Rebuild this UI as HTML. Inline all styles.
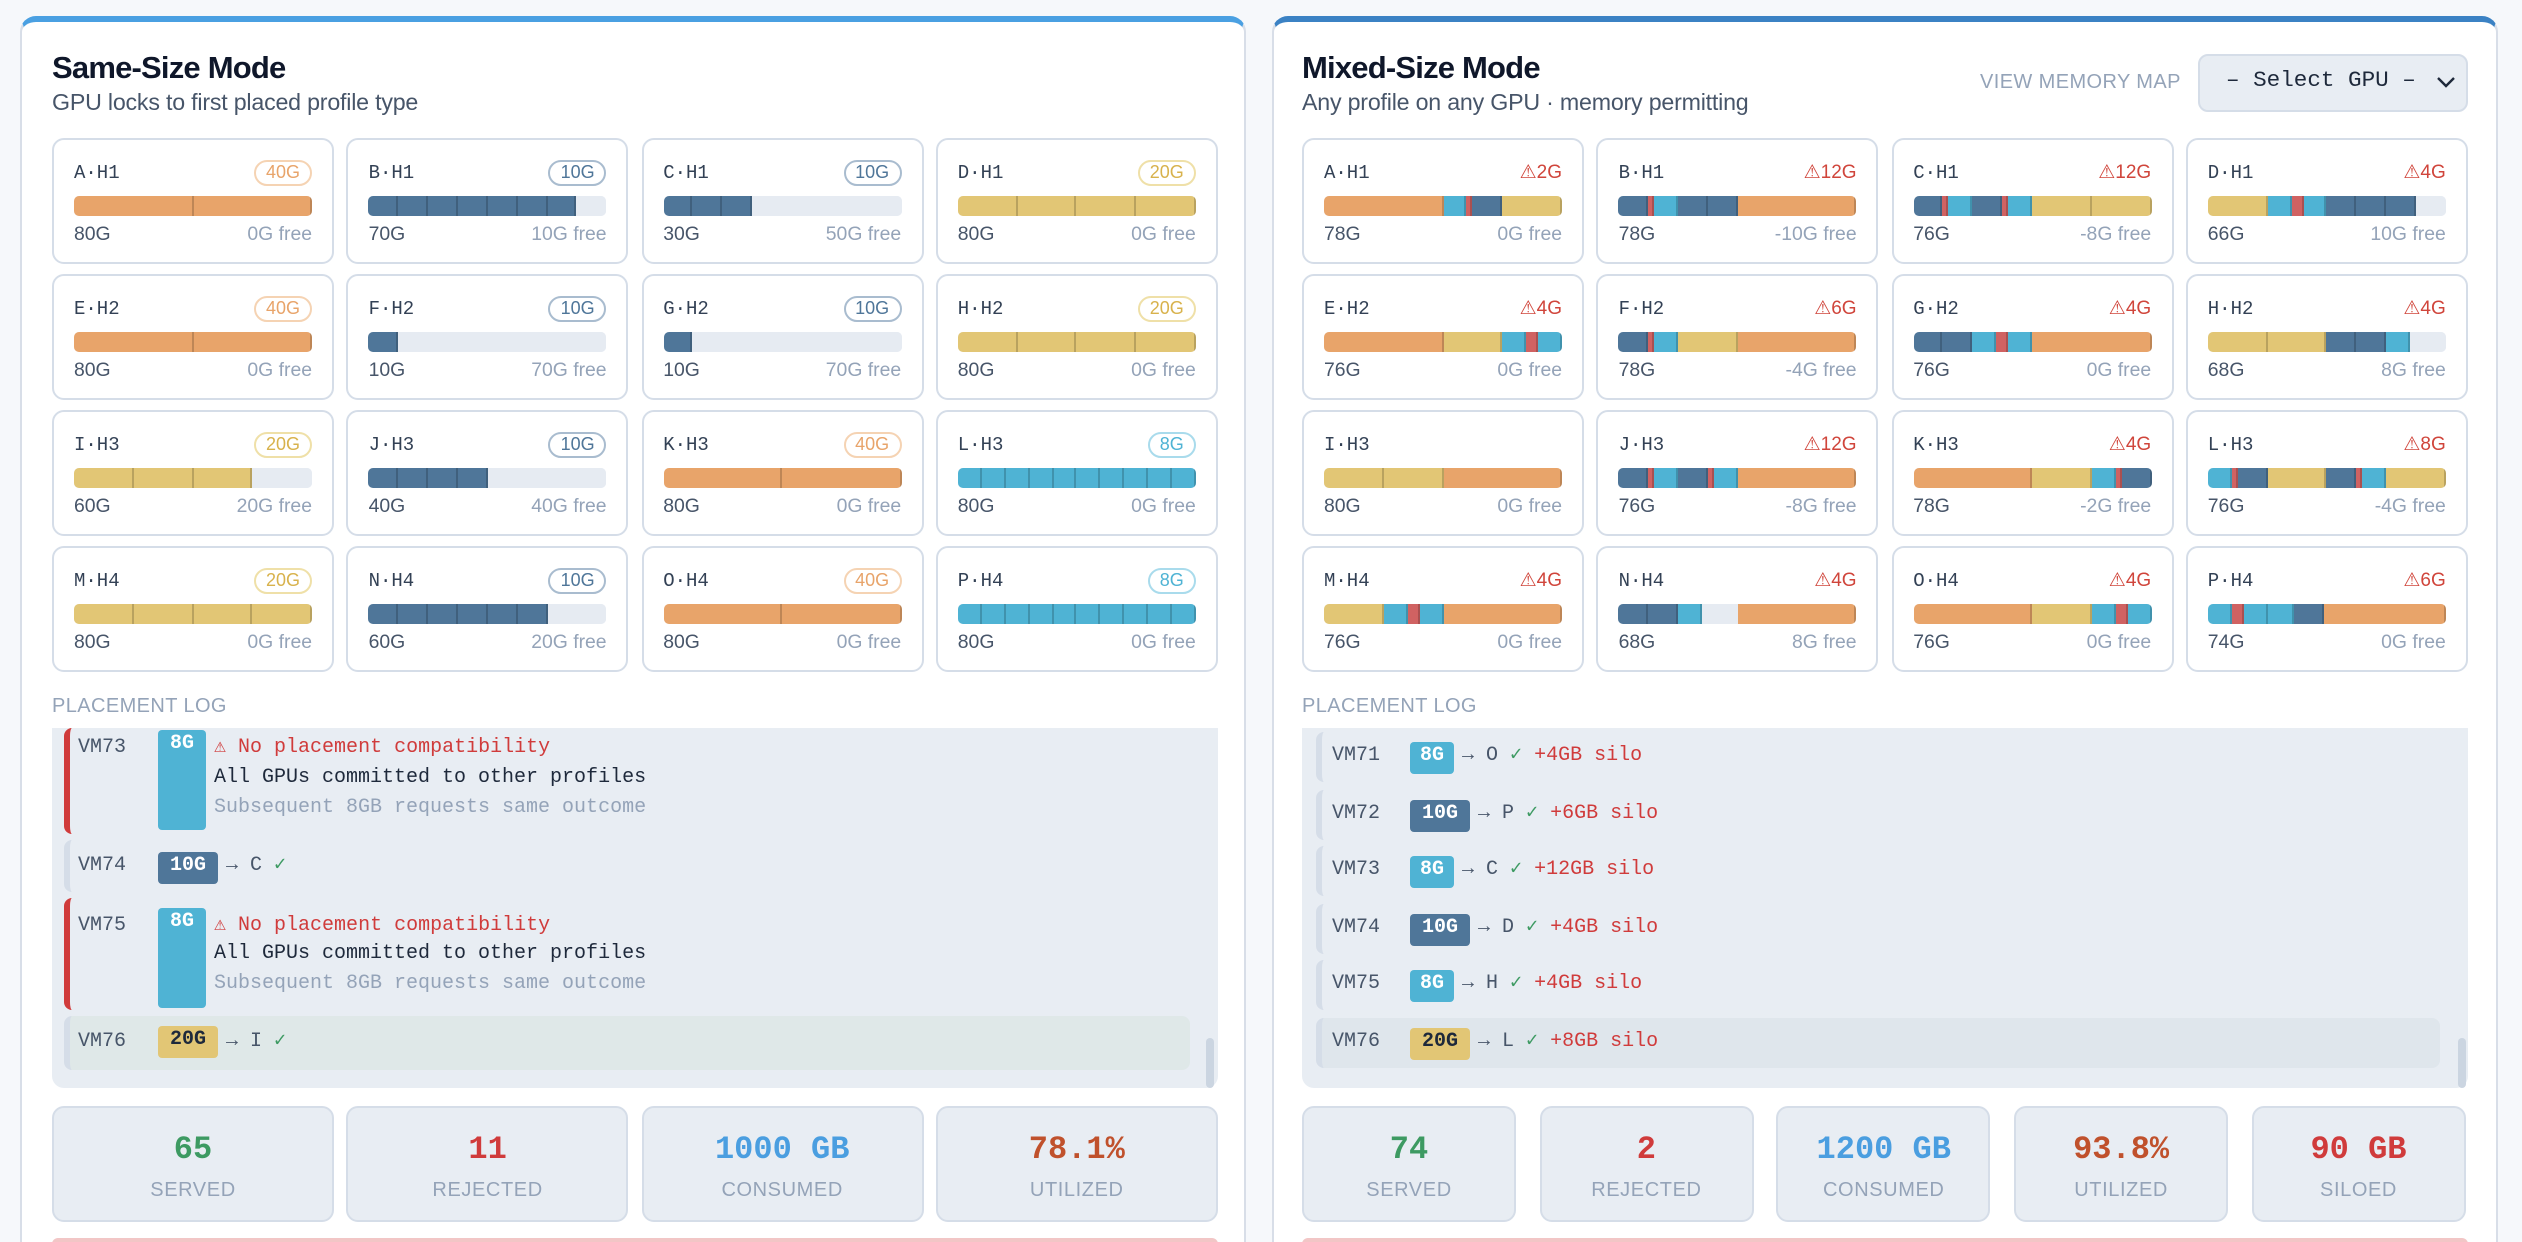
<!DOCTYPE html>
<html><head><meta charset="utf-8">
<style>
*{box-sizing:border-box;margin:0;padding:0}
html,body{width:2522px;height:1242px;overflow:hidden;background:#f6f8fb}
#w{position:absolute;left:0;top:0;width:1261px;height:621px;overflow:hidden;transform:scale(2);transform-origin:0 0;font-family:"Liberation Sans",sans-serif;color:#1e293b}
.a{position:absolute}
.panel{position:absolute;top:8px;width:613px;height:613px;background:#fff;border:1px solid #d8dee8;border-bottom:none;border-top:3px solid #4aa0e2;border-radius:8px 8px 0 0}
.t{position:absolute;top:26px;font-size:15.5px;font-weight:bold;letter-spacing:-0.4px;line-height:18px;color:#0f172a}
.st{position:absolute;top:45px;font-size:11.6px;line-height:14px;color:#475569;letter-spacing:-0.1px}
.grid{position:absolute;top:69px;width:583px;display:grid;grid-template-columns:repeat(4,141px);grid-auto-rows:63px;gap:5px 6.3px}
.card{position:relative;border:1px solid #d5dde8;border-radius:6px;background:#fff}
.n{position:absolute;left:10px;top:11px;font-family:"Liberation Mono",monospace;font-size:9.5px;line-height:12px;color:#334155}
.b{position:absolute;right:10px;top:10px;height:13px;line-height:11px;padding:0 5px;border:1px solid;border-radius:7px;font-size:9px}
.bo{color:#e8a46a;border-color:#f5d3b3}.bs{color:#4f7699;border-color:#a9bccf}.by{color:#d8b24c;border-color:#efe0a8}.bc{color:#4fb3d4;border-color:#a9dbec}
.w{position:absolute;right:10px;top:11px;font-size:9.5px;line-height:12px;color:#d0453b}
.bar{position:absolute;left:10px;right:10px;top:28px;height:10px;border-radius:2.5px;overflow:hidden;display:flex;background:#e6ebf2}
.bar i{display:block;height:100%;box-shadow:inset -1px 0 0 rgba(0,0,0,.18)}
.o{background:#e8a46a}.y{background:#e2c675}.s{background:#4f7699}.c{background:#4fb3d4}.r{background:#d06262}.e{background:#e6ebf2;box-shadow:none!important}
.f{position:absolute;left:10px;right:10px;top:42px;font-size:9.7px;line-height:12px;color:#475569}
.f span{float:right;color:#94a3b8}
.pl{position:absolute;top:348px;font-size:10px;line-height:12px;color:#94a3b8;letter-spacing:0.2px}
.log{position:absolute;top:364px;width:583px;height:180px;background:#e8edf3;border-radius:0 0 6px 6px}
.m{font-family:"Liberation Mono",monospace;font-size:10px;line-height:12px;color:#475569;position:absolute}
.en{position:absolute;border-left:3px solid #d5dde8;border-radius:4px}
.red{border-left-color:#d03b3b}
.bd{position:absolute;font-family:"Liberation Mono",monospace;font-weight:bold;font-size:10px;color:#fff;text-align:center;border-radius:2px;line-height:16px;height:16px}
.rt{color:#d03b3b}.ok{color:#3d9a62}
.sb{position:absolute;width:4px;height:25px;top:519px;background:#cbd5e1;border-radius:2px}
.stats{position:absolute;top:553px;display:flex}
.sx{height:58px;background:#e8edf3;border:1px solid #d5dde8;border-radius:6px;text-align:center}
.sx b{display:block;margin-top:12px;font-family:"Liberation Mono",monospace;font-size:16px;line-height:18px}
.sx span{display:block;margin-top:6px;font-size:10px;line-height:12px;color:#94a3b8;letter-spacing:0.3px}
.pk{position:absolute;top:619px;height:4px;width:583px;background:#f2c6c6;border-radius:3px 3px 0 0}
</style></head><body><div id="w">

<div class="panel" style="left:10px"></div>
<div class="panel" style="left:636px;border-top-color:#3b82c4"></div>

<div class="t" style="left:26px">Same-Size Mode</div>
<div class="st" style="left:26px">GPU locks to first placed profile type</div>

<div class="grid" style="left:26px">
<div class="card"><div class="n">A·H1</div><div class="b bo">40G</div><div class="bar"><i class="o" style="flex:40"></i><i class="o" style="flex:40"></i></div><div class="f">80G<span>0G free</span></div></div>
<div class="card"><div class="n">B·H1</div><div class="b bs">10G</div><div class="bar"><i class="s" style="flex:10"></i><i class="s" style="flex:10"></i><i class="s" style="flex:10"></i><i class="s" style="flex:10"></i><i class="s" style="flex:10"></i><i class="s" style="flex:10"></i><i class="s" style="flex:10"></i><i class="e" style="flex:10"></i></div><div class="f">70G<span>10G free</span></div></div>
<div class="card"><div class="n">C·H1</div><div class="b bs">10G</div><div class="bar"><i class="s" style="flex:10"></i><i class="s" style="flex:10"></i><i class="s" style="flex:10"></i><i class="e" style="flex:50"></i></div><div class="f">30G<span>50G free</span></div></div>
<div class="card"><div class="n">D·H1</div><div class="b by">20G</div><div class="bar"><i class="y" style="flex:20"></i><i class="y" style="flex:20"></i><i class="y" style="flex:20"></i><i class="y" style="flex:20"></i></div><div class="f">80G<span>0G free</span></div></div>
<div class="card"><div class="n">E·H2</div><div class="b bo">40G</div><div class="bar"><i class="o" style="flex:40"></i><i class="o" style="flex:40"></i></div><div class="f">80G<span>0G free</span></div></div>
<div class="card"><div class="n">F·H2</div><div class="b bs">10G</div><div class="bar"><i class="s" style="flex:10"></i><i class="e" style="flex:70"></i></div><div class="f">10G<span>70G free</span></div></div>
<div class="card"><div class="n">G·H2</div><div class="b bs">10G</div><div class="bar"><i class="s" style="flex:10"></i><i class="e" style="flex:70"></i></div><div class="f">10G<span>70G free</span></div></div>
<div class="card"><div class="n">H·H2</div><div class="b by">20G</div><div class="bar"><i class="y" style="flex:20"></i><i class="y" style="flex:20"></i><i class="y" style="flex:20"></i><i class="y" style="flex:20"></i></div><div class="f">80G<span>0G free</span></div></div>
<div class="card"><div class="n">I·H3</div><div class="b by">20G</div><div class="bar"><i class="y" style="flex:20"></i><i class="y" style="flex:20"></i><i class="y" style="flex:20"></i><i class="e" style="flex:20"></i></div><div class="f">60G<span>20G free</span></div></div>
<div class="card"><div class="n">J·H3</div><div class="b bs">10G</div><div class="bar"><i class="s" style="flex:10"></i><i class="s" style="flex:10"></i><i class="s" style="flex:10"></i><i class="s" style="flex:10"></i><i class="e" style="flex:40"></i></div><div class="f">40G<span>40G free</span></div></div>
<div class="card"><div class="n">K·H3</div><div class="b bo">40G</div><div class="bar"><i class="o" style="flex:40"></i><i class="o" style="flex:40"></i></div><div class="f">80G<span>0G free</span></div></div>
<div class="card"><div class="n">L·H3</div><div class="b bc">8G</div><div class="bar"><i class="c" style="flex:8"></i><i class="c" style="flex:8"></i><i class="c" style="flex:8"></i><i class="c" style="flex:8"></i><i class="c" style="flex:8"></i><i class="c" style="flex:8"></i><i class="c" style="flex:8"></i><i class="c" style="flex:8"></i><i class="c" style="flex:8"></i><i class="c" style="flex:8"></i></div><div class="f">80G<span>0G free</span></div></div>
<div class="card"><div class="n">M·H4</div><div class="b by">20G</div><div class="bar"><i class="y" style="flex:20"></i><i class="y" style="flex:20"></i><i class="y" style="flex:20"></i><i class="y" style="flex:20"></i></div><div class="f">80G<span>0G free</span></div></div>
<div class="card"><div class="n">N·H4</div><div class="b bs">10G</div><div class="bar"><i class="s" style="flex:10"></i><i class="s" style="flex:10"></i><i class="s" style="flex:10"></i><i class="s" style="flex:10"></i><i class="s" style="flex:10"></i><i class="s" style="flex:10"></i><i class="e" style="flex:20"></i></div><div class="f">60G<span>20G free</span></div></div>
<div class="card"><div class="n">O·H4</div><div class="b bo">40G</div><div class="bar"><i class="o" style="flex:40"></i><i class="o" style="flex:40"></i></div><div class="f">80G<span>0G free</span></div></div>
<div class="card"><div class="n">P·H4</div><div class="b bc">8G</div><div class="bar"><i class="c" style="flex:8"></i><i class="c" style="flex:8"></i><i class="c" style="flex:8"></i><i class="c" style="flex:8"></i><i class="c" style="flex:8"></i><i class="c" style="flex:8"></i><i class="c" style="flex:8"></i><i class="c" style="flex:8"></i><i class="c" style="flex:8"></i><i class="c" style="flex:8"></i></div><div class="f">80G<span>0G free</span></div></div>
</div>

<div class="pl" style="left:26px">PLACEMENT LOG</div>
<div class="log" style="left:26px"></div>
<div class="en red" style="left:32px;top:364px;width:572px;height:53px"></div>
<div class="m" style="left:39px;top:369px">VM73</div>
<div class="bd c" style="left:79px;top:365px;width:24px;height:50px">8G</div>
<div class="m rt" style="left:107px;top:369px">⚠ No placement compatibility</div>
<div class="m" style="left:107px;top:384px;color:#1e293b">All GPUs committed to other profiles</div>
<div class="m" style="left:107px;top:399px;color:#94a3b8">Subsequent 8GB requests same outcome</div>

<div class="en" style="left:32px;top:420px;width:572px;height:26px"></div>
<div class="m" style="left:39px;top:428px">VM74</div>
<div class="bd s" style="left:79px;top:426px;width:30px">10G</div>
<div class="m" style="left:113px;top:428px">→ C <span class="ok">✓</span></div>

<div class="en red" style="left:32px;top:449px;width:572px;height:56px"></div>
<div class="m" style="left:39px;top:458px">VM75</div>
<div class="bd c" style="left:79px;top:454px;width:24px;height:50px">8G</div>
<div class="m rt" style="left:107px;top:458px">⚠ No placement compatibility</div>
<div class="m" style="left:107px;top:472px;color:#1e293b">All GPUs committed to other profiles</div>
<div class="m" style="left:107px;top:487px;color:#94a3b8">Subsequent 8GB requests same outcome</div>

<div class="en" style="left:32px;top:508px;width:563px;height:27px;background:#dfe8e8"></div>
<div class="m" style="left:39px;top:516px">VM76</div>
<div class="bd y" style="left:79px;top:513px;width:30px;color:#1e293b">20G</div>
<div class="m" style="left:113px;top:516px">→ I <span class="ok">✓</span></div>
<div class="sb" style="left:603px"></div>

<div class="stats" style="left:26px;gap:6.3px">
<div class="sx" style="width:141px"><b style="color:#3d9a62">65</b><span>SERVED</span></div>
<div class="sx" style="width:141px"><b style="color:#d03b3b">11</b><span>REJECTED</span></div>
<div class="sx" style="width:141px"><b style="color:#4a9ee0">1000 GB</b><span>CONSUMED</span></div>
<div class="sx" style="width:141px"><b style="color:#c0512c">78.1%</b><span>UTILIZED</span></div>
</div>
<div class="pk" style="left:26px"></div>

<!-- RIGHT -->
<div class="t" style="left:651px">Mixed-Size Mode</div>
<div class="st" style="left:651px">Any profile on any GPU · memory permitting</div>
<div class="a" style="left:990px;top:36px;font-size:10px;line-height:12px;color:#94a3b8;letter-spacing:0.2px">VIEW MEMORY MAP</div>
<div class="a" style="left:1099px;top:27px;width:135px;height:29px;background:#e8edf3;border:1px solid #d5dde8;border-radius:5px"></div>
<div class="a" style="left:1113px;top:35px;font-family:'Liberation Mono',monospace;font-size:11.3px;line-height:13px;color:#1e293b">– Select GPU –</div>
<svg class="a" style="left:1218px;top:38px" width="10" height="7" viewBox="0 0 10 7"><path d="M1 1 L5 5 L9 1" fill="none" stroke="#1e293b" stroke-width="1.2"/></svg>

<div class="grid" style="left:651px">
<div class="card"><div class="n">A·H1</div><div class="w">⚠2G</div><div class="bar"><i class="o" style="flex:40"></i><i class="c" style="flex:8"></i><i class="r" style="flex:2"></i><i class="s" style="flex:10"></i><i class="y" style="flex:20"></i></div><div class="f">78G<span>0G free</span></div></div>
<div class="card"><div class="n">B·H1</div><div class="w">⚠12G</div><div class="bar"><i class="s" style="flex:10"></i><i class="r" style="flex:2"></i><i class="c" style="flex:8"></i><i class="s" style="flex:10"></i><i class="s" style="flex:10"></i><i class="o" style="flex:40"></i></div><div class="f">78G<span>-10G free</span></div></div>
<div class="card"><div class="n">C·H1</div><div class="w">⚠12G</div><div class="bar"><i class="s" style="flex:10"></i><i class="r" style="flex:2"></i><i class="c" style="flex:8"></i><i class="s" style="flex:10"></i><i class="r" style="flex:2"></i><i class="c" style="flex:8"></i><i class="y" style="flex:20"></i><i class="y" style="flex:20"></i></div><div class="f">76G<span>-8G free</span></div></div>
<div class="card"><div class="n">D·H1</div><div class="w">⚠4G</div><div class="bar"><i class="y" style="flex:20"></i><i class="c" style="flex:8"></i><i class="r" style="flex:4"></i><i class="c" style="flex:8"></i><i class="s" style="flex:10"></i><i class="s" style="flex:10"></i><i class="s" style="flex:10"></i><i class="e" style="flex:10"></i></div><div class="f">66G<span>10G free</span></div></div>
<div class="card"><div class="n">E·H2</div><div class="w">⚠4G</div><div class="bar"><i class="o" style="flex:40"></i><i class="y" style="flex:20"></i><i class="c" style="flex:8"></i><i class="r" style="flex:4"></i><i class="c" style="flex:8"></i></div><div class="f">76G<span>0G free</span></div></div>
<div class="card"><div class="n">F·H2</div><div class="w">⚠6G</div><div class="bar"><i class="s" style="flex:10"></i><i class="r" style="flex:2"></i><i class="c" style="flex:8"></i><i class="y" style="flex:20"></i><i class="o" style="flex:40"></i></div><div class="f">78G<span>-4G free</span></div></div>
<div class="card"><div class="n">G·H2</div><div class="w">⚠4G</div><div class="bar"><i class="s" style="flex:10"></i><i class="s" style="flex:10"></i><i class="c" style="flex:8"></i><i class="r" style="flex:4"></i><i class="c" style="flex:8"></i><i class="o" style="flex:40"></i></div><div class="f">76G<span>0G free</span></div></div>
<div class="card"><div class="n">H·H2</div><div class="w">⚠4G</div><div class="bar"><i class="y" style="flex:20"></i><i class="y" style="flex:20"></i><i class="s" style="flex:10"></i><i class="s" style="flex:10"></i><i class="c" style="flex:8"></i><i class="e" style="flex:12"></i></div><div class="f">68G<span>8G free</span></div></div>
<div class="card"><div class="n">I·H3</div><div class="bar"><i class="y" style="flex:20"></i><i class="y" style="flex:20"></i><i class="o" style="flex:40"></i></div><div class="f">80G<span>0G free</span></div></div>
<div class="card"><div class="n">J·H3</div><div class="w">⚠12G</div><div class="bar"><i class="s" style="flex:10"></i><i class="r" style="flex:2"></i><i class="c" style="flex:8"></i><i class="s" style="flex:10"></i><i class="r" style="flex:2"></i><i class="c" style="flex:8"></i><i class="o" style="flex:40"></i></div><div class="f">76G<span>-8G free</span></div></div>
<div class="card"><div class="n">K·H3</div><div class="w">⚠4G</div><div class="bar"><i class="o" style="flex:40"></i><i class="y" style="flex:20"></i><i class="c" style="flex:8"></i><i class="r" style="flex:2"></i><i class="s" style="flex:10"></i></div><div class="f">78G<span>-2G free</span></div></div>
<div class="card"><div class="n">L·H3</div><div class="w">⚠8G</div><div class="bar"><i class="c" style="flex:8"></i><i class="r" style="flex:2"></i><i class="s" style="flex:10"></i><i class="y" style="flex:20"></i><i class="s" style="flex:10"></i><i class="r" style="flex:2"></i><i class="c" style="flex:8"></i><i class="y" style="flex:20"></i></div><div class="f">76G<span>-4G free</span></div></div>
<div class="card"><div class="n">M·H4</div><div class="w">⚠4G</div><div class="bar"><i class="y" style="flex:20"></i><i class="c" style="flex:8"></i><i class="r" style="flex:4"></i><i class="c" style="flex:8"></i><i class="o" style="flex:40"></i></div><div class="f">76G<span>0G free</span></div></div>
<div class="card"><div class="n">N·H4</div><div class="w">⚠4G</div><div class="bar"><i class="s" style="flex:10"></i><i class="s" style="flex:10"></i><i class="c" style="flex:8"></i><i class="e" style="flex:12"></i><i class="o" style="flex:40"></i></div><div class="f">68G<span>8G free</span></div></div>
<div class="card"><div class="n">O·H4</div><div class="w">⚠4G</div><div class="bar"><i class="o" style="flex:40"></i><i class="y" style="flex:20"></i><i class="c" style="flex:8"></i><i class="r" style="flex:4"></i><i class="c" style="flex:8"></i></div><div class="f">76G<span>0G free</span></div></div>
<div class="card"><div class="n">P·H4</div><div class="w">⚠6G</div><div class="bar"><i class="c" style="flex:8"></i><i class="r" style="flex:4"></i><i class="c" style="flex:8"></i><i class="c" style="flex:8"></i><i class="s" style="flex:10"></i><i class="o" style="flex:40"></i></div><div class="f">74G<span>0G free</span></div></div>
</div>

<div class="pl" style="left:651px">PLACEMENT LOG</div>
<div class="log" style="left:651px"></div>

<div class="en" style="left:658px;top:366px;width:562px;height:25px"></div>
<div class="m" style="left:666px;top:373px">VM71</div>
<div class="bd c" style="left:705px;top:371px;width:22px">8G</div>
<div class="m" style="left:731px;top:373px">→ O <span class="ok">✓</span> <span class="rt">+4GB silo</span></div>

<div class="en" style="left:658px;top:394.5px;width:562px;height:25px"></div>
<div class="m" style="left:666px;top:401.5px">VM72</div>
<div class="bd s" style="left:705px;top:399.5px;width:30px">10G</div>
<div class="m" style="left:739px;top:401.5px">→ P <span class="ok">✓</span> <span class="rt">+6GB silo</span></div>

<div class="en" style="left:658px;top:423px;width:562px;height:25px"></div>
<div class="m" style="left:666px;top:430px">VM73</div>
<div class="bd c" style="left:705px;top:428px;width:22px">8G</div>
<div class="m" style="left:731px;top:430px">→ C <span class="ok">✓</span> <span class="rt">+12GB silo</span></div>

<div class="en" style="left:658px;top:451.5px;width:562px;height:25px"></div>
<div class="m" style="left:666px;top:458.5px">VM74</div>
<div class="bd s" style="left:705px;top:456.5px;width:30px">10G</div>
<div class="m" style="left:739px;top:458.5px">→ D <span class="ok">✓</span> <span class="rt">+4GB silo</span></div>

<div class="en" style="left:658px;top:480px;width:562px;height:25px"></div>
<div class="m" style="left:666px;top:487px">VM75</div>
<div class="bd c" style="left:705px;top:485px;width:22px">8G</div>
<div class="m" style="left:731px;top:487px">→ H <span class="ok">✓</span> <span class="rt">+4GB silo</span></div>

<div class="en" style="left:658px;top:508.5px;width:562px;height:25px;background:#dfe6ec"></div>
<div class="m" style="left:666px;top:515.5px">VM76</div>
<div class="bd y" style="left:705px;top:513.5px;width:30px;color:#1e293b">20G</div>
<div class="m" style="left:739px;top:515.5px">→ L <span class="ok">✓</span> <span class="rt">+8GB silo</span></div>
<div class="sb" style="left:1229px"></div>

<div class="stats" style="left:651px;gap:11.7px">
<div class="sx" style="width:107px"><b style="color:#3d9a62">74</b><span>SERVED</span></div>
<div class="sx" style="width:107px"><b style="color:#d03b3b">2</b><span>REJECTED</span></div>
<div class="sx" style="width:107px"><b style="color:#4a9ee0">1200 GB</b><span>CONSUMED</span></div>
<div class="sx" style="width:107px"><b style="color:#c0512c">93.8%</b><span>UTILIZED</span></div>
<div class="sx" style="width:107px"><b style="color:#d03b3b">90 GB</b><span>SILOED</span></div>
</div>
<div class="pk" style="left:651px"></div>

</div></body></html>
